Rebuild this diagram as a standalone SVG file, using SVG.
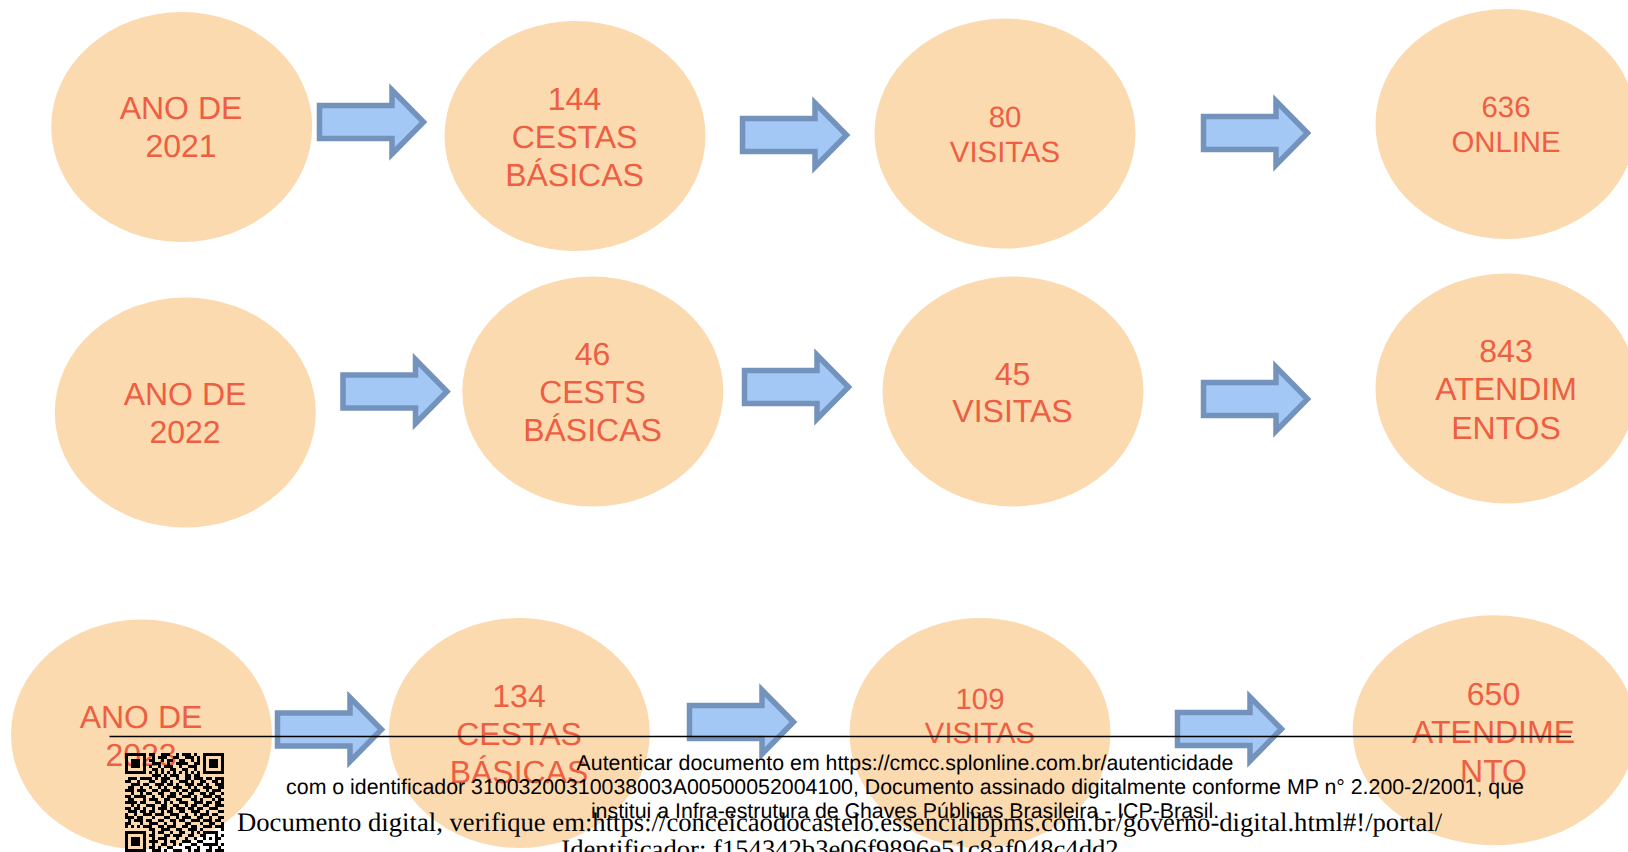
<svg xmlns="http://www.w3.org/2000/svg" width="1628" height="852" viewBox="0 0 1628 852">
<style>
text{text-rendering:geometricPrecision}
.e{fill:#fcdab0}
.t{font-family:"Liberation Sans",Arial,sans-serif;font-size:32px;fill:#ed5f42;text-anchor:middle}
.s{font-size:29.33px}
.a{fill:#a3c8f5;stroke:#7393bc;stroke-width:5.5;stroke-linejoin:miter}
.f{font-family:"Liberation Sans",Arial,sans-serif;font-size:21.33px;fill:#000;text-anchor:middle}
.d{font-family:"Liberation Serif","Times New Roman",serif;font-size:26.67px;fill:#000}
</style>
<defs><path id="arr" d="M2.500-16.500H75V-32L106.500 0 75 32V16.500H2.500Z"/></defs>
<rect width="1628" height="852" fill="#fff"/>
<g id="n1"><ellipse class="e" cx="181.700" cy="127" rx="130.500" ry="115"/><text class="t" x="181" y="119">ANO DE</text><text class="t" x="181" y="157">2021</text></g>
<g id="n2"><ellipse class="e" cx="575" cy="136" rx="130.500" ry="115"/><text class="t" x="574.500" y="110">144</text><text class="t" x="574.500" y="148">CESTAS</text><text class="t" x="574.500" y="186">BÁSICAS</text></g>
<g id="n3"><ellipse class="e" cx="1005" cy="133.500" rx="130.500" ry="115"/><text class="t s" x="1005" y="127">80</text><text class="t s" x="1005" y="162">VISITAS</text></g>
<g id="n4"><ellipse class="e" cx="1506" cy="124" rx="130.500" ry="115"/><text class="t s" x="1506" y="117">636</text><text class="t s" x="1506" y="152">ONLINE</text></g>
<g id="n5"><ellipse class="e" cx="185.300" cy="412.500" rx="130.500" ry="115"/><text class="t" x="185" y="405">ANO DE</text><text class="t" x="185" y="443">2022</text></g>
<g id="n6"><ellipse class="e" cx="592.800" cy="391.500" rx="130.500" ry="115"/><text class="t" x="592.500" y="365">46</text><text class="t" x="592.500" y="403">CESTS</text><text class="t" x="592.500" y="441">BÁSICAS</text></g>
<g id="n7"><ellipse class="e" cx="1013" cy="391.500" rx="130.500" ry="115"/><text class="t" x="1012.500" y="385">45</text><text class="t" x="1012.500" y="422">VISITAS</text></g>
<g id="n8"><ellipse class="e" cx="1506" cy="388.500" rx="130.500" ry="115"/><text class="t" x="1506" y="362">843</text><text class="t" x="1506" y="400">ATENDIM</text><text class="t" x="1506" y="439">ENTOS</text></g>
<g id="n9"><ellipse class="e" cx="141.500" cy="734.500" rx="130.500" ry="115"/><text class="t" x="141" y="728">ANO DE</text><text class="t" x="141" y="766">2023</text></g>
<g id="n10"><ellipse class="e" cx="519.300" cy="733" rx="130.500" ry="115"/><text class="t" x="519" y="707">134</text><text class="t" x="519" y="745">CESTAS</text><text class="t" x="519" y="783">BÁSICAS</text></g>
<g id="n11"><ellipse class="e" cx="980" cy="733" rx="130.500" ry="115"/><text class="t s" x="980" y="709">109</text><text class="t s" x="980" y="743">VISITAS</text></g>
<g id="n12"><ellipse class="e" cx="1494.300" cy="730.300" rx="141.600" ry="115"/><text class="t" x="1493.500" y="705">650</text><text class="t" x="1493.500" y="743">ATENDIME</text><text class="t" x="1493.500" y="782">NTO</text></g>
<g id="connectors">
<use href="#arr" class="a" x="317" y="122"/>
<use href="#arr" class="a" x="740" y="135"/>
<use href="#arr" class="a" x="1201" y="133"/>
<use href="#arr" class="a" x="340.500" y="391.500"/>
<use href="#arr" class="a" x="742" y="387"/>
<use href="#arr" class="a" x="1201" y="399"/>
<use href="#arr" class="a" x="275" y="729.500"/>
<use href="#arr" class="a" x="687" y="722"/>
<use href="#arr" class="a" x="1175" y="729"/>
</g>
<g id="footer">
<path d="M109.500 736.500H1571" stroke="#000" stroke-width="1.300" fill="none"/>
<text class="f" x="905" y="769.500">Autenticar documento em https://cmcc.splonline.com.br/autenticidade</text>
<text class="f" x="905" y="793.500">com o identificador 31003200310038003A00500052004100, Documento assinado digitalmente conforme MP n° 2.200-2/2001, que</text>
<text class="f" x="905" y="817.500">institui a Infra-estrutura de Chaves Públicas Brasileira - ICP-Brasil.</text>
<text class="d" x="237" y="831">Documento digital, verifique em:https://conceicaodocastelo.essencialbpms.com.br/governo-digital.html#!/portal/</text>
<text class="d" x="840" y="857.500" text-anchor="middle">Identificador: f154342b3e06f9896e51c8af048c4dd2</text>
</g>
<g id="qr" transform="translate(125 754.500) scale(3)"><path stroke="#000" stroke-width="1" fill="none" shape-rendering="crispEdges" d="M0 0h7M8 0h2M12 0h3M17 0h1M19 0h3M23 0h1M26 0h7M0 1h1M6 1h1M9 1h1M11 1h3M16 1h2M20 1h3M24 1h1M26 1h1M32 1h1M0 2h1M2 2h3M6 2h1M8 2h2M12 2h1M14 2h2M18 2h2M22 2h1M24 2h1M26 2h1M28 2h3M32 2h1M0 3h1M2 3h3M6 3h1M9 3h3M14 3h1M17 3h4M23 3h2M26 3h1M28 3h3M32 3h1M0 4h1M2 4h3M6 4h1M8 4h1M11 4h1M13 4h3M18 4h1M21 4h3M26 4h1M28 4h3M32 4h1M0 5h1M6 5h1M9 5h2M12 5h1M15 5h2M19 5h2M23 5h1M26 5h1M32 5h1M0 6h7M8 6h1M10 6h1M12 6h1M14 6h1M16 6h1M18 6h1M20 6h1M22 6h1M24 6h1M26 6h7M9 7h3M13 7h1M15 7h3M20 7h2M23 7h2M1 8h3M5 8h2M7 8h2M10 8h1M12 8h3M17 8h1M20 8h2M23 8h3M27 8h2M30 8h3M0 9h2M4 9h1M8 9h2M12 9h2M15 9h1M18 9h3M22 9h1M25 9h2M29 9h2M32 9h1M2 10h3M6 10h2M10 10h3M14 10h2M17 10h1M20 10h3M24 10h2M27 10h1M30 10h3M1 11h2M5 11h1M8 11h1M11 11h1M13 11h1M16 11h3M21 11h1M23 11h1M26 11h3M31 11h2M0 12h3M4 12h3M9 12h2M12 12h3M17 12h1M19 12h2M22 12h3M27 12h1M29 12h3M2 13h1M5 13h1M7 13h2M11 13h2M15 13h2M18 13h1M21 13h2M25 13h2M28 13h2M32 13h1M0 14h2M3 14h4M9 14h1M12 14h1M14 14h3M19 14h3M23 14h1M26 14h3M30 14h2M1 15h2M6 15h1M8 15h3M13 15h2M17 15h2M22 15h2M25 15h1M29 15h1M31 15h2M0 16h4M5 16h2M10 16h2M13 16h1M15 16h1M18 16h3M23 16h3M27 16h2M30 16h2M2 17h1M4 17h1M7 17h3M12 17h2M16 17h2M20 17h1M22 17h2M26 17h2M30 17h3M0 18h2M3 18h2M6 18h1M9 18h1M11 18h3M15 18h1M17 18h3M21 18h2M24 18h2M28 18h3M1 19h3M5 19h2M8 19h2M12 19h1M14 19h2M18 19h2M22 19h3M27 19h1M31 19h2M0 20h1M3 20h1M6 20h3M10 20h3M15 20h3M20 20h1M23 20h1M25 20h3M29 20h2M0 21h3M4 21h2M9 21h1M13 21h2M17 21h1M19 21h3M24 21h2M28 21h1M31 21h2M1 22h1M3 22h3M7 22h2M11 22h2M15 22h2M18 22h2M22 22h3M26 22h3M30 22h2M0 23h2M5 23h1M8 23h3M13 23h1M16 23h1M20 23h2M25 23h1M28 23h2M32 23h1M0 24h1M2 24h1M4 24h1M6 24h3M11 24h2M14 24h3M19 24h2M22 24h2M26 24h3M30 24h3M8 25h2M12 25h3M17 25h2M21 25h3M25 25h1M32 25h1M0 26h7M9 26h1M11 26h2M15 26h1M18 26h2M22 26h1M24 26h1M26 26h5M0 27h1M6 27h1M8 27h2M13 27h2M16 27h3M21 27h2M25 27h2M30 27h1M32 27h1M0 28h1M2 28h3M6 28h1M9 28h1M11 28h3M17 28h1M20 28h1M23 28h1M26 28h1M28 28h1M30 28h2M0 29h1M2 29h3M6 29h1M8 29h3M13 29h1M15 29h2M19 29h3M24 29h2M30 29h1M0 30h1M2 30h3M6 30h1M9 30h1M12 30h2M16 30h1M18 30h1M22 30h2M26 30h5M32 30h1M0 31h1M6 31h1M8 31h2M11 31h1M14 31h2M20 31h2M24 31h1M28 31h1M31 31h1M0 32h7M9 32h3M13 32h1M16 32h3M21 32h1M23 32h2M27 32h2M30 32h3"/></g>
</svg>
